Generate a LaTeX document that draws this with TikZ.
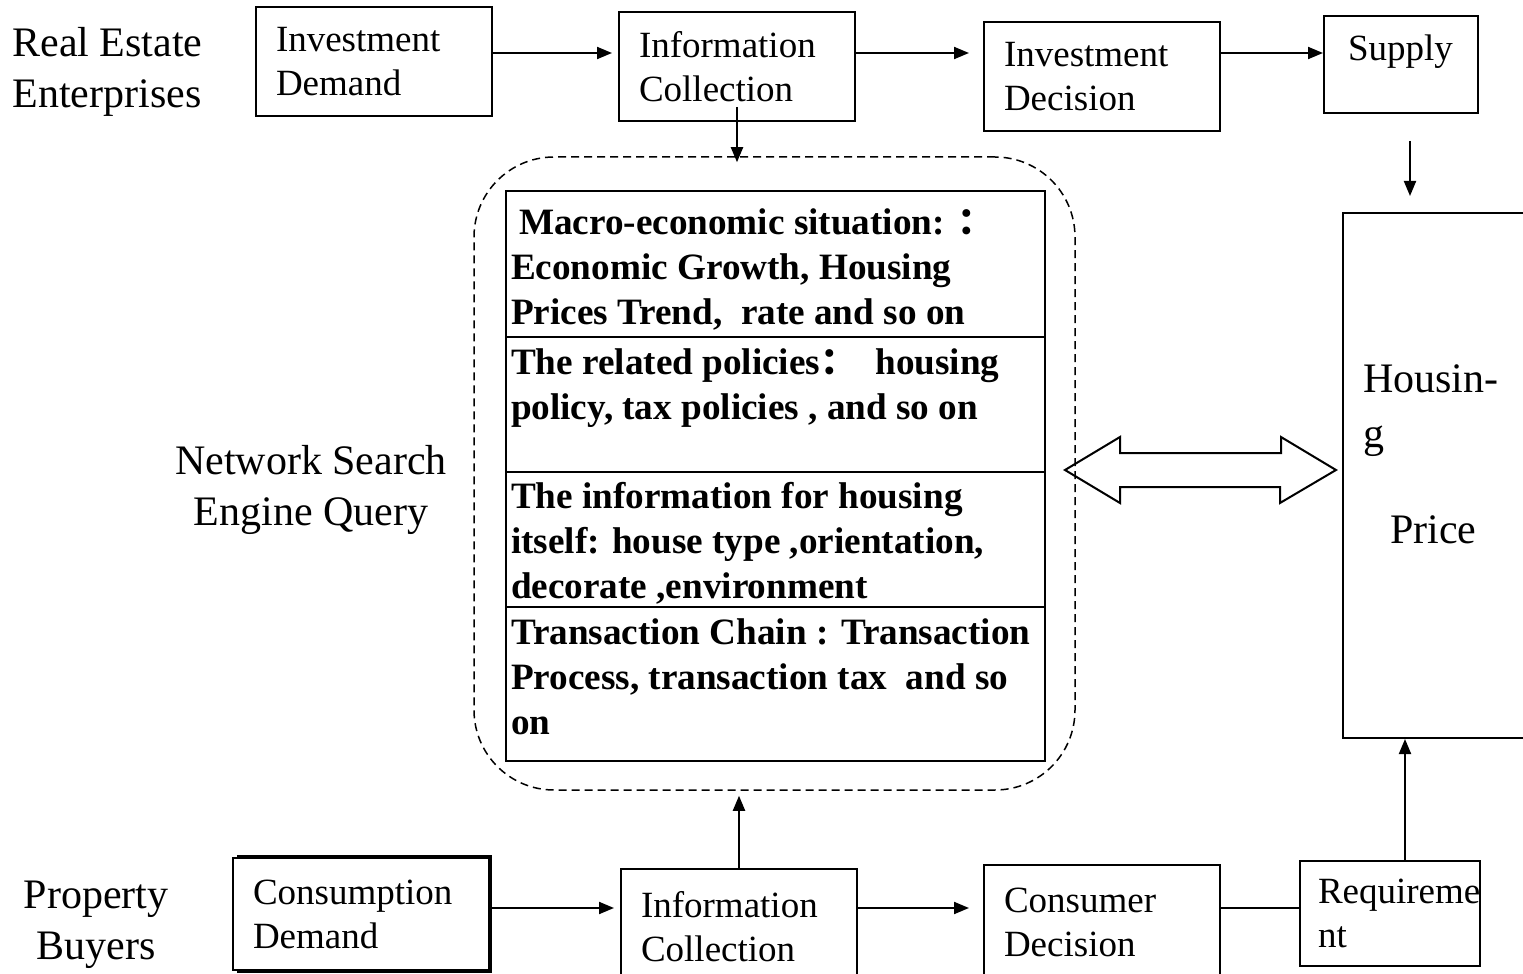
\documentclass[tikz,border=0pt]{standalone}
\usepackage{fontspec}
\setmainfont{Liberation Serif}
\newfontfamily\cjk{Noto Sans CJK SC}
\usepackage{tikz}
\usetikzlibrary{arrows.meta}
\usetikzlibrary{calc}
\newcommand\linewd{1pt}
\newcommand\boxfont{\fontsize{18.5}{22}\selectfont}
\newcommand\sidefont{\fontsize{21}{25.5}\selectfont}
\newcommand\rowfont{\fontsize{18.6}{22.5}\selectfont\bfseries}
\newcommand\rowtext[2]{\parbox[c][#1][t]{264.5pt}{#2}}
\tikzset{>={Triangle[length=7.5pt,width=6pt]}}
\tikzstyle{graph}  = [line width=\linewd]
\tikzstyle{stage}  = [draw, graph, rectangle, inner xsep=10pt, inner ysep=0pt, align=left, font=\boxfont]
\tikzstyle{side}   = [font=\sidefont, inner sep=0pt]
\tikzstyle{row}    = [draw, graph, rectangle, inner xsep=2.5pt, inner ysep=0pt, anchor=north west, font=\rowfont]
\tikzstyle{search} = [draw, line width=.75pt, dash pattern=on 4pt off 2.5pt, rounded corners=40pt, rectangle, inner sep=0pt]
\tikzstyle{flow}   = [graph, ->]

\begin{document}
\begin{tikzpicture}[x=.5pt, y=-.5pt]
    \useasboundingbox (0, 0) rectangle (1523, 974);
    \coordinate (toprow) at (0, 53);
    \coordinate (botrow) at (0, 908);
    \coordinate (supplyx) at (1410, 0);
    \coordinate (reqx) at (1405, 0);
    % side labels
    \draw (12, 72) node[side, anchor=west, align=left] (firms) {Real Estate\\Enterprises};
    \draw (311, 490) node[side, align=center] (query) {Network Search\\Engine Query};
    \draw (96, 925) node[side, align=center] (buyers) {Property\\Buyers};
    % enterprises
    \draw (374, 61.5) node[stage, minimum height=54.5pt, text width=98pt] (invdem) {Investment\\Demand};
    \draw (737, 66.5) node[stage, minimum height=54.5pt, text width=98pt] (infotop) {Information\\Collection};
    \draw (1102, 76.5) node[stage, minimum height=54.5pt, text width=98pt] (invdec) {Investment\\Decision};
    \draw (1401, 64.5) node[stage, minimum height=48.5pt, inner xsep=12pt, text width=53pt, text depth=17pt] (supply) {Supply};
    \draw (1471.5, 475.5) node[stage, font=\sidefont, minimum height=262.5pt, text width=108.5pt, text depth=96.5pt] (house)
        {Housin-\\[2pt]g\\[22.5pt]\hspace*{13.5pt}Price};
    % search engine query
    \draw (774.5, 473.5) node[search, minimum width=300.5pt, minimum height=316.5pt] (search) {};
    \draw (505, 190) node[row] (macro) {\rowtext{73pt}{\vspace*{9pt}\hspace*{4pt}Macro-economic situation: {\cjk ：}\\
        Economic Growth, Housing\\Prices Trend,~ rate and so on}};
    \draw (505, 336) node[row] (policy) {\rowtext{67.5pt}{\vspace*{6pt}The related policies{\cjk ：}\hspace{9pt}housing\\
        policy, tax policies , and so on}};
    \draw (505, 471) node[row] (itself) {\rowtext{67.5pt}{\vspace*{5pt}The information for housing\\
        itself: house type ,orientation,\\decorate ,environment}};
    \draw (505, 606) node[row] (chain) {\rowtext{77pt}{\vspace*{6pt}Transaction Chain : Transaction\\
        Process, transaction tax~ and so\\on}};
    % buyers
    \draw (361, 914) node[stage, minimum height=56pt, text width=108pt] (consdem) {Consumption\\Demand};
    \draw (739, 926.5) node[stage, minimum height=57.5pt, text width=98pt] (infobot) {Information\\Collection};
    \draw (1102, 922) node[stage, minimum height=57pt, text width=98pt] (consdec) {Consumer\\Decision};
    \draw (1390, 913.5) node[stage, minimum height=52.5pt, inner xsep=9pt, text width=72pt] (require) {\mbox{Requireme}\\nt};
    \draw[line width=2pt] ([xshift=2.5pt]consdem.north west) -- (consdem.north east)
        -- (consdem.south east) -- ([xshift=2.5pt]consdem.south west);
    % flows
    \draw[flow, shorten >=3pt] (invdem.east |- toprow) -- (infotop.west |- toprow);
    \draw[flow, shorten >=7pt] (infotop.east |- toprow) -- (invdec.west |- toprow);
    \draw[flow] (invdec.east |- toprow) -- (supply.west |- toprow);
    \draw[flow, shorten <=13.5pt, shorten >=8pt] (supply.south -| supplyx) -- (house.north -| supplyx);
    \draw[flow, shorten >=-3pt] ([yshift=7.5pt]infotop.south) -- (search.north -| infotop.south);
    \draw[flow, shorten >=2.5pt] (infobot.north) -- (infobot.north |- search.south);
    \draw[flow, shorten >=3pt] (consdem.east |- botrow) -- (infobot.west |- botrow);
    \draw[flow, shorten >=7pt] (infobot.east |- botrow) -- (consdec.west |- botrow);
    \draw[graph] (consdec.east |- botrow) -- (require.west |- botrow);
    \draw[flow] (require.north -| reqx) -- (house.south -| reqx);
    % both ways
    \coordinate (dl) at (1065, 470);
    \coordinate (dr) at (1336, 470);
    \draw[graph] (dl) -- ++(55, -33) -- ++(0, 16) -- ++(161, 0) -- ++(0, -16) -- (dr)
        -- ++(-56, 33) -- ++(0, -16) -- ++(-160, 0) -- ++(0, 16) -- cycle;
\end{tikzpicture}
\end{document}
